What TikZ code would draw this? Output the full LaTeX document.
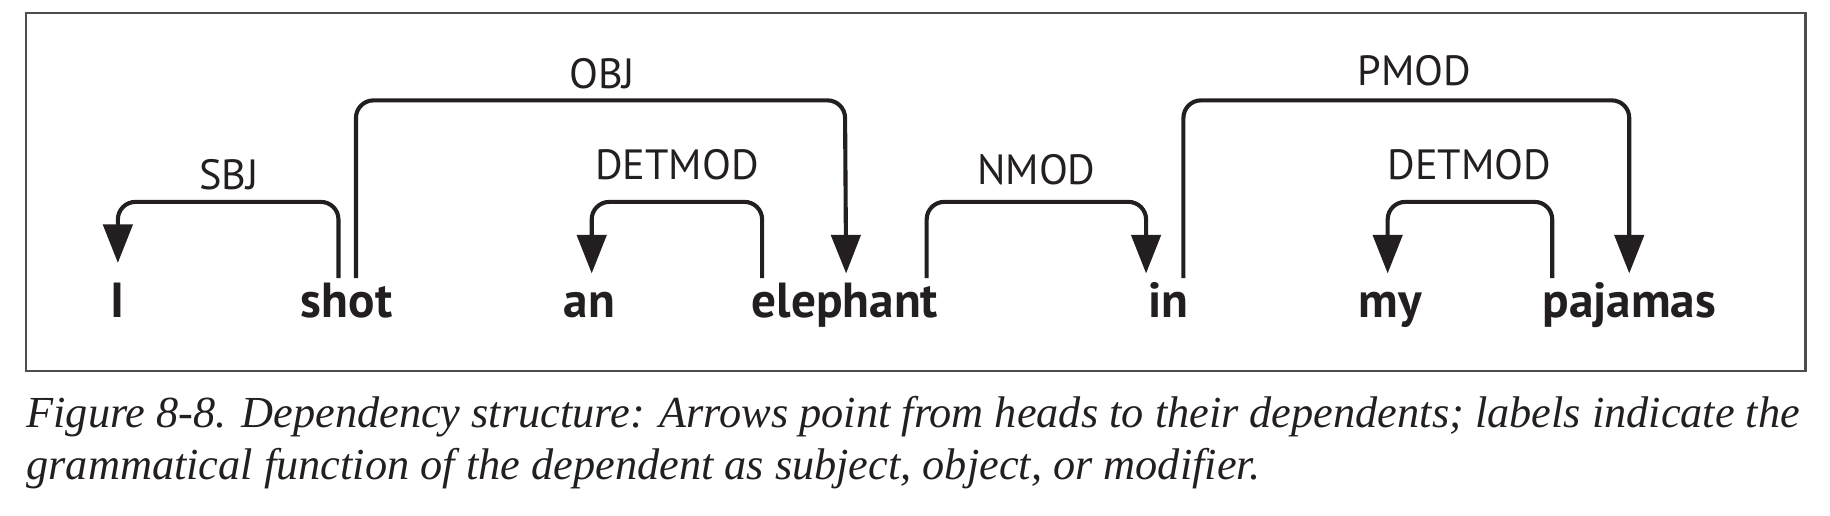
\documentclass[tikz,border=0pt]{standalone}
\usepackage{fontspec}
\usetikzlibrary{arrows.meta,calc}
\newfontfamily\wordfont{PT Sans}
\newfontfamily\capfont{Liberation Serif}
\definecolor{ink}{HTML}{231F20}
\definecolor{framegray}{HTML}{4D4D4D}
\tikzset{
  word/.style={anchor=base, inner sep=0pt, text height=0.28cm, text depth=0.08cm,
    font=\wordfont\fontsize{12}{14}\selectfont\bfseries, text=ink},
  lab/.style={anchor=base, inner sep=0pt, font=\wordfont\fontsize{10.3}{12}\selectfont, text=ink},
  dep/.style={draw=ink, line width=1pt, rounded corners=0.15cm,
    -{Triangle[width=0.25cm,length=0.33cm]}},
  framebox/.style={draw=framegray, line width=0.5pt},
  captext/.style={anchor=base west, inner sep=0pt, font=\capfont\itshape\fontsize{10.8}{13}\selectfont, text=ink}
}
\begin{document}
\begin{tikzpicture}[x=0.01cm, y=-0.01cm]
\useasboundingbox (0,0) rectangle (1568,442);
\draw[framebox] (22,11) rectangle (1547,318);
\coordinate (low) at (0,173);
\coordinate (high) at (0,86);
% words
\node[word] (I) at (101,272) {I};
\node[word] (shot) at (297,272) {shot};
\node[word] (an) at (505,272) {an};
\node[word] (elephant) at (724,272) {elephant};
\node[word] (in) at (1001,272) {in};
\node[word] (my) at (1191,272) {my};
\node[word] (pajamas) at (1396,272) {pajamas};
% dependencies
\draw[dep] ($(shot.north)+(-7,-5)$) |- (low -| I.north) -- ($(I.north)+(0,-18)$);
\draw[dep] ($(shot.north)+(8,-5)$) |- (high -| elephant.north) -- ($(elephant.north)+(1,-9)$);
\draw[dep] ($(elephant.north)+(-71,-5)$) |- ($(low -| an.north)+(2,0)$) -- ($(an.north)+(2,-9)$);
\draw[dep] ($(elephant.north)+(70,-5)$) |- ($(low -| in.north)+(-19,0)$) -- ($(in.north)+(-19,-9)$);
\draw[dep] ($(in.north)+(13,-5)$) |- (high -| pajamas.north) -- ($(pajamas.north)+(0,-9)$);
\draw[dep] ($(pajamas.north)+(-66,-5)$) |- ($(low -| my.north)+(-2,0)$) -- ($(my.north)+(-2,-9)$);
% labels
\node[lab] (lsbj) at (196,162) {SBJ};
\node[lab] (lobj) at (516,76) {OBJ};
\node[lab] (ldet1) at (580,154) {DETMOD};
\node[lab] (lnmod) at (888,158) {NMOD};
\node[lab] (lpmod) at (1212,73) {PMOD};
\node[lab] (ldet2) at (1259,154) {DETMOD};
% caption
\node[captext] (cap1) at (22,366) {Figure 8-8. Dependency structure: Arrows point from heads to their dependents; labels indicate the};
\node[captext] (cap2) at (22,411) {grammatical function of the dependent as subject, object, or modifier.};
\end{tikzpicture}
\end{document}
